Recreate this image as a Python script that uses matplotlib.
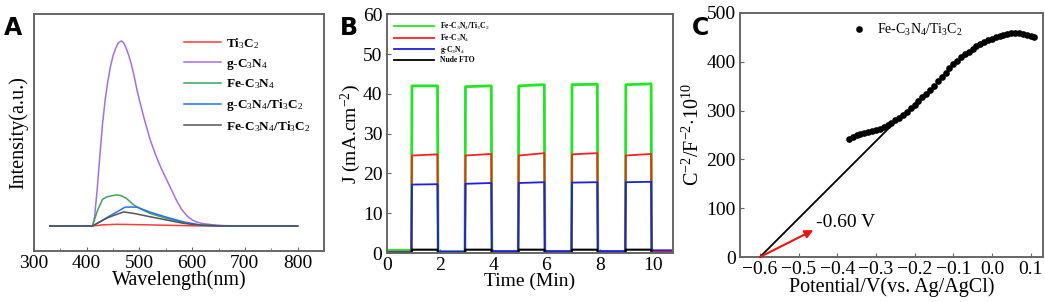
import numpy as np
import matplotlib
matplotlib.use('Agg')
import matplotlib.pyplot as plt

plt.rcParams['font.family'] = ['Liberation Serif', 'DejaVu Serif']
plt.rcParams['mathtext.fontset'] = 'custom'
plt.rcParams['mathtext.rm'] = 'Liberation Serif'
plt.rcParams['mathtext.it'] = 'Liberation Serif:italic'
plt.rcParams['mathtext.bf'] = 'Liberation Serif:bold'

# ---------------- Panel A: PL spectra ----------------
pl_labels = ['Ti$_3$C$_2$', 'g-C$_3$N$_4$', 'Fe-C$_3$N$_4$',
             'g-C$_3$N$_4$/Ti$_3$C$_2$', 'Fe-C$_3$N$_4$/Ti$_3$C$_2$']
pl_colors = ['#ff3b3b', '#a66ee6', '#3fa35c', '#2a6ff0', '#555555']

wl_ti3c2 = [330, 411, 430, 457, 500, 550, 600, 650, 800]
int_ti3c2 = [0, 0, 0.006, 0.009, 0.007, 0.004, 0.001, 0, 0]

wl_gcn = [330, 411, 415, 420, 425, 430, 435, 440, 445, 450, 455, 460, 466,
          470, 475, 480, 485, 490, 495, 500, 510, 520, 530, 540, 550, 560,
          570, 580, 590, 600, 610, 620, 640, 660, 700, 800]
int_gcn = [0, 0, 0.05, 0.2, 0.38, 0.55, 0.68, 0.78, 0.86, 0.92, 0.96, 0.99,
           1.0, 0.99, 0.96, 0.92, 0.87, 0.81, 0.74, 0.68, 0.57, 0.47, 0.39,
           0.32, 0.26, 0.2, 0.14, 0.09, 0.055, 0.033, 0.02, 0.013, 0.006,
           0.002, 0, 0]

wl_fecn = [330, 411, 420, 430, 438, 447, 457, 465, 475, 489, 505, 520, 536,
           552, 568, 584, 600, 616, 650, 800]
int_fecn = [0, 0, 0.08, 0.144, 0.157, 0.163, 0.168, 0.164, 0.15, 0.114,
            0.088, 0.068, 0.054, 0.041, 0.029, 0.018, 0.01, 0.005, 0, 0]

wl_gcnti = [330, 411, 473, 495, 520, 552, 584, 616, 660, 800]
int_gcnti = [0, 0, 0.102, 0.102, 0.075, 0.047, 0.022, 0.005, 0, 0]

wl_fecnti = [330, 411, 440, 470, 489, 520, 552, 584, 616, 660, 800]
int_fecnti = [0, 0, 0.045, 0.076, 0.068, 0.05, 0.032, 0.014, 0.004, 0, 0]

# ---------------- Panel B: photocurrent ----------------
t_on = [0.93, 2.94, 4.94, 6.94, 8.96]
t_off = [1.91, 3.93, 5.92, 7.91, 9.93]
t_end = 10.75

j_labels = ['Fe-C$_3$N$_4$/Ti$_3$C$_2$', 'Fe-C$_3$N$_4$', 'g-C$_3$N$_4$', 'Nude FTO']
j_colors = ['#22e622', '#ff2020', '#1f1fdd', '#000000']
# current at start and end of each light-on period
green_on_a = [42.0, 41.8, 42.0, 42.3, 42.3]
green_on_b = [42.0, 42.0, 42.3, 42.4, 42.5]
red_on_a = [24.5, 24.5, 24.5, 24.8, 24.5]
red_on_b = [24.8, 24.9, 25.1, 25.1, 24.9]
blue_on_a = [17.2, 17.4, 17.6, 17.7, 17.8]
blue_on_b = [17.3, 17.6, 17.8, 17.8, 17.9]
black_on_a = [0.85, 0.85, 0.85, 0.85, 0.85]
black_on_b = [0.85, 0.85, 0.85, 0.85, 0.85]
# dark current levels
green_off = [0.7, 0.3, 0.3, 0.3, 0.3, 0.4]
red_off = [0.3, 0.3, 0.3, 0.3, 0.3, 0.3]
blue_off = [0.2, 0.4, 0.5, 0.5, 0.5, 0.7]
black_off = [0.0, 0.0, 0.0, 0.0, 0.0, 0.0]

# ---------------- Panel C: Mott-Schottky ----------------
potential = [-0.37, -0.36, -0.35, -0.34, -0.33, -0.32, -0.31, -0.30, -0.29,
             -0.28, -0.27, -0.26, -0.25, -0.24, -0.23, -0.22, -0.21, -0.20,
             -0.19, -0.18, -0.17, -0.16, -0.15, -0.14, -0.13, -0.12, -0.11,
             -0.10, -0.09, -0.08, -0.07, -0.06, -0.05, -0.04, -0.03, -0.02,
             -0.01, 0.00, 0.01, 0.02, 0.03, 0.04, 0.05, 0.06, 0.07, 0.08,
             0.09, 0.10, 0.11]
c_inv2 = [241, 246, 249, 252, 254, 256, 258, 260, 263, 267, 271, 275, 280,
          285, 291, 298, 305, 312, 319, 327, 335, 343, 351, 360, 369, 378,
          387, 395, 402, 409, 415, 421, 427, 432, 436, 440, 444, 447, 450,
          453, 455, 457, 458, 459, 458, 457, 455, 453, 451]
fit_x = [-0.60, -0.24]
fit_y = [0, 285]
flatband = -0.60


def square_trace(on_a, on_b, off):
    t = [0.0]
    j = [off[0]]
    for k in range(len(t_on)):
        t += [t_on[k], t_on[k] + 0.02, t_off[k], t_off[k] + 0.02]
        j += [off[k], on_a[k], on_b[k], off[k + 1]]
    t.append(t_end)
    j.append(off[-1])
    return t, j


fig = plt.figure(figsize=(10.45, 3.02), dpi=100)
spine_c = '#666666'


def style(ax):
    for s in ax.spines.values():
        s.set_color(spine_c)
        s.set_linewidth(1.4)
    ax.tick_params(direction='in', labelsize=14, length=3, color=spine_c,
                   pad=3)


# A
axA = fig.add_axes([0.0325, 0.169, 0.2775, 0.785])
series = [(wl_ti3c2, int_ti3c2), (wl_gcn, int_gcn), (wl_fecn, int_fecn),
          (wl_gcnti, int_gcnti), (wl_fecnti, int_fecnti)]
for (x, y), lab, c in zip(series, pl_labels, pl_colors):
    axA.plot(x, y, color=c, lw=1.1, label=lab)
axA.set_xlim(300, 850)
axA.set_ylim(-0.135, 1.146)
axA.set_xticks([300, 400, 500, 600, 700, 800])
axA.set_xticks([350, 450, 550, 650, 750], minor=True)
axA.set_yticks([])
style(axA)
axA.tick_params(which='minor', direction='in', length=2, color=spine_c)
axA.set_xlabel('Wavelength(nm)', fontsize=14.5, labelpad=-1)
axA.set_ylabel('Intensity(a.u.)', fontsize=14.5, labelpad=4)
legA = axA.legend(loc='upper left', bbox_to_anchor=(0.5, 0.93), frameon=False,
                  prop={'weight': 'bold', 'size': 9.5}, handlelength=2.8,
                  labelspacing=0.45, handletextpad=0.4, borderaxespad=0)
fig.text(0.004, 0.885, 'A', fontsize=17, fontweight='bold', family='DejaVu Sans')

# B
axB = fig.add_axes([0.370, 0.162, 0.274, 0.791])
traces = [(green_on_a, green_on_b, green_off), (red_on_a, red_on_b, red_off),
          (blue_on_a, blue_on_b, blue_off), (black_on_a, black_on_b, black_off)]
widths = [2.0, 1.3, 1.3, 1.5]
for tr, lab, c, w in zip(traces, j_labels, j_colors, widths):
    t, j = square_trace(*tr)
    axB.plot(t, j, color=c, lw=w, label=lab)
axB.set_xlim(0, t_end)
axB.set_ylim(0, 60)
axB.set_xticks([0, 2, 4, 6, 8, 10])
axB.set_yticks([0, 10, 20, 30, 40, 50, 60])
style(axB)
axB.set_xlabel('Time (Min)', fontsize=14, labelpad=-1)
axB.set_ylabel('J (mA.cm$^{-2}$)', fontsize=14, labelpad=0)
legB = axB.legend(loc='upper left', bbox_to_anchor=(0.015, 0.985), frameon=False,
                  prop={'weight': 'bold', 'size': 5.5}, handlelength=5.2,
                  labelspacing=0.05, handletextpad=0.8, borderaxespad=0)
for h in legB.get_lines():
    h.set_linewidth(1.3)
fig.text(0.325, 0.885, 'B', fontsize=17, fontweight='bold', family='DejaVu Sans')

# C
axC = fig.add_axes([0.708, 0.149, 0.290, 0.808])
axC.plot(potential, c_inv2, 'o', color='black', ms=4.8, mew=0,
         label='Fe-C$_3$N$_4$/Ti$_3$C$_2$')
axC.plot(fit_x, fit_y, color='black', lw=1.3)
axC.annotate('', xy=(-0.462, 55), xytext=(flatband, 0),
             arrowprops=dict(arrowstyle='-|>', color='#ee1111', lw=1.5,
                             mutation_scale=12, shrinkA=0, shrinkB=0))
axC.text(-0.455, 62, '%.2f V' % flatband, fontsize=14)
axC.set_xlim(-0.652, 0.132)
axC.set_ylim(0, 500)
axC.set_xticks([-0.6, -0.5, -0.4, -0.3, -0.2, -0.1, 0.0, 0.1])
axC.set_yticks([0, 100, 200, 300, 400, 500])
style(axC)
axC.set_xlabel('Potential/V(vs. Ag/AgCl)', fontsize=14.5, labelpad=-1)
axC.set_ylabel('C$^{-2}$/F$^{-2}$$\\cdot$10$^{10}$', fontsize=14.5, labelpad=2)
axC.legend(loc='upper left', bbox_to_anchor=(0.33, 0.985), frameon=False,
           fontsize=10, handletextpad=0.3, borderaxespad=0, markerscale=1.0)
fig.text(0.662, 0.885, 'C', fontsize=17, fontweight='bold', family='DejaVu Sans')

fig.savefig('out.png', dpi=100)
